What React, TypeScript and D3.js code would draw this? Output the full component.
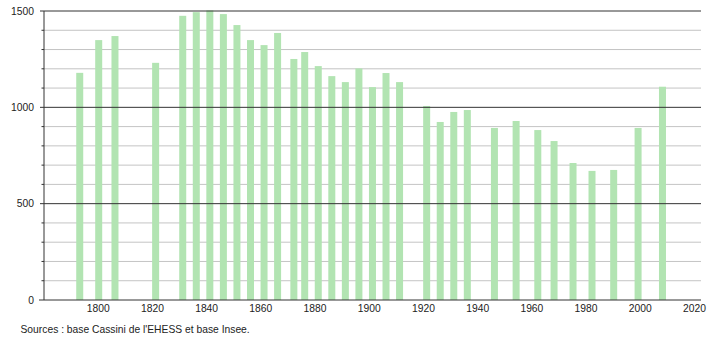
import React from "react";
import * as d3 from "d3";

const years = [1793, 1800, 1806, 1821, 1831, 1836, 1841, 1846, 1851, 1856, 1861, 1866, 1872, 1876, 1881, 1886, 1891, 1896, 1901, 1906, 1911, 1921, 1926, 1931, 1936, 1946, 1954, 1962, 1968, 1975, 1982, 1990, 1999, 2008];
const population = [1179, 1349, 1370, 1231, 1475, 1494, 1503, 1484, 1427, 1349, 1323, 1386, 1251, 1287, 1214, 1162, 1131, 1202, 1105, 1178, 1131, 1007, 924, 976, 986, 893, 929, 882, 825, 711, 670, 675, 893, 1107];
const xTicks = [1800, 1820, 1840, 1860, 1880, 1900, 1920, 1940, 1960, 1980, 2000, 2020];
const yMajor = [0, 500, 1000, 1500];
const yMinor = d3.range(100, 1500, 100).filter((v) => v % 500 !== 0);

export default function App() {
  const W = 710, H = 340;
  const left = 44, right = 701, top = 11, bottom = 300;
  const x = d3.scaleLinear().domain([1780, 2020]).range([left, 694.5]);
  const y = d3.scaleLinear().domain([0, 1500]).range([bottom, top]);
  const bw = 7;
  const font = "Liberation Sans, Arial, sans-serif";
  const fs = 10.3;
  return (
    <svg width={W} height={H} style={{ position: "absolute", left: 0, top: 0, background: "#fff" }} fontFamily={font}>
      {yMinor.map((v) => (
        <g key={"mn" + v}>
          <line x1={left} x2={right} y1={y(v)} y2={y(v)} stroke="#c4c4c4" strokeWidth={1} />
          <line x1={left - 2.5} x2={left} y1={y(v)} y2={y(v)} stroke="#333" strokeWidth={1} />
        </g>
      ))}
      {years.map((yr, i) => (
        <rect key={yr} x={x(yr) - bw / 2 + 0.5} y={y(population[i])} width={bw} height={bottom - y(population[i])} fill="#b2e4b2" />
      ))}
      {yMajor.map((v) => (
        <g key={"mj" + v}>
          <line x1={v === 0 ? left - 5 : left - 4} x2={right} y1={y(v)} y2={y(v)} stroke="#333" strokeWidth={1} />
          <text x={34} y={y(v)} dy="0.35em" textAnchor="end" fontSize={fs} fill="#222">{v}</text>
        </g>
      ))}
      <line x1={left} x2={left} y1={top} y2={bottom} stroke="#333" strokeWidth={1} />
      {xTicks.map((t) => (
        <text key={t} x={x(t)} y={312} textAnchor="middle" fontSize={fs} fill="#222">{t}</text>
      ))}
      <text x={20.5} y={333} fontSize={fs} fill="#222">Sources : base Cassini de l'EHESS et base Insee.</text>
    </svg>
  );
}
